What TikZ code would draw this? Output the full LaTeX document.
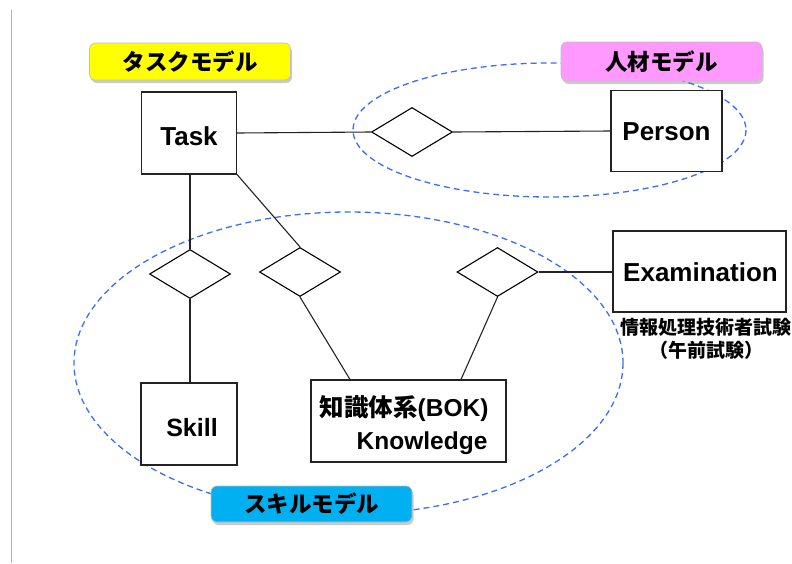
\documentclass[tikz,border=0pt]{standalone}
\usepackage{fontspec}
\setmainfont{Liberation Sans}
\newfontfamily\jp{Noto Sans CJK JP}
\usetikzlibrary{shapes.geometric,shadows}
\definecolor{ellblue}{RGB}{60,110,245}
\definecolor{lblyellow}{RGB}{255,255,0}
\definecolor{lblpink}{RGB}{255,153,255}
\definecolor{lblcyan}{RGB}{0,176,240}
\definecolor{edgegray}{RGB}{35,35,35}
\begin{document}
\begin{tikzpicture}[x=1pt,y=-1pt,
  entity/.style={draw=edgegray,line width=1.1pt,fill=white,inner sep=0pt},
  rel/.style={diamond,draw=black,line width=1.1pt,fill=white,inner sep=0pt,minimum width=81pt,minimum height=49pt},
  conn/.style={draw=edgegray,line width=1.1pt},
  grp/.style={draw=ellblue,line width=1.3pt,dash pattern=on 6pt off 4pt},
  modellbl/.style={draw=black!25,line width=0.6pt,rounded corners=6pt,minimum width=201pt,inner sep=0pt,
    font=\jp\bfseries\fontsize{22.5}{24}\selectfont,
    drop shadow={shadow xshift=1.5pt,shadow yshift=-3pt,opacity=0.35,fill=black!60}},
  etext/.style={font=\bfseries\fontsize{26}{28}\selectfont,inner sep=0pt}
]
\useasboundingbox (0,0) rectangle (792,563);
% left gray rule
\draw[draw=black!30,line width=1pt] (11,10) -- (11,563);

% group ellipses
\draw[grp] (549.5,130) ellipse [x radius=196.5, y radius=67];
\draw[grp] (348.5,363) ellipse [x radius=274.5, y radius=151];

% entities
\node[entity,minimum width=95pt,minimum height=82pt] (task) at (189,133) {};
\node[etext] at ([yshift=-3pt]task.center) {Task};
\node[entity,minimum width=111pt,minimum height=81pt] (person) at (666.5,131) {};
\node[etext] at ([yshift=-1pt]person.center) {Person};
\node[entity,minimum width=173pt,minimum height=81pt] (exam) at (699.5,271.5) {};
\node[etext] at ([xshift=1pt,yshift=-1pt]exam.center) {Examination};
\node[entity,minimum width=96pt,minimum height=82pt] (skill) at (189,424) {};
\node[font=\bfseries\fontsize{25}{28}\selectfont,inner sep=0pt] at ([xshift=3pt,yshift=-4pt]skill.center) {Skill};
\node[entity,minimum width=195pt,minimum height=82pt] (know) at (408.5,421) {};
\node[font=\bfseries\fontsize{24.5}{28}\selectfont,inner sep=0pt,anchor=west] (bok) at ([xshift=-89pt,yshift=12pt]know.center) {{\jp 知識体系}(BOK)};
\node[font=\bfseries\fontsize{24.5}{28}\selectfont,inner sep=0pt,anchor=west] (kw) at ([xshift=-52pt,yshift=-22pt]know.center) {Knowledge};

% exam caption
\node[font=\jp\bfseries\fontsize{19}{23}\selectfont,inner sep=0pt,align=center] (examcap) at (706,339) {情報処理技術者試験\\（午前試験）};

% relationships
\node[rel] (r1) at (412,132) {};
\node[rel] (r2) at (190,274) {};
\node[rel] (r3) at (300,272) {};
\node[rel] (r4) at (497.5,272) {};

% connectors
\draw[conn] (task.east) -- (r1.west);
\draw[conn] (r1.east) -- (person.west);
\draw[conn] (r2.north |- task.south) -- (r2.north);
\draw[conn] (r2.south) -- (r2.south |- skill.north);
\draw[conn] (task.south east) -- (r3.north);
\draw[conn] (r3.south) -- ([xshift=-58.5pt]know.north);
\draw[conn] (r4.south) -- ([xshift=52.5pt]know.north);
\draw[conn] (r4.east) -- (r4.east -| exam.west);

% model labels
\node[modellbl,fill=lblyellow,minimum height=37pt] (tasklbl) at (190,61.5) {タスクモデル};
\node[modellbl,fill=lblpink,minimum height=39pt] (personlbl) at (661.5,61.5) {人材モデル};
\node[modellbl,fill=lblcyan,minimum height=36pt] (skilllbl) at (311.5,504) {スキルモデル};
\end{tikzpicture}
\end{document}
